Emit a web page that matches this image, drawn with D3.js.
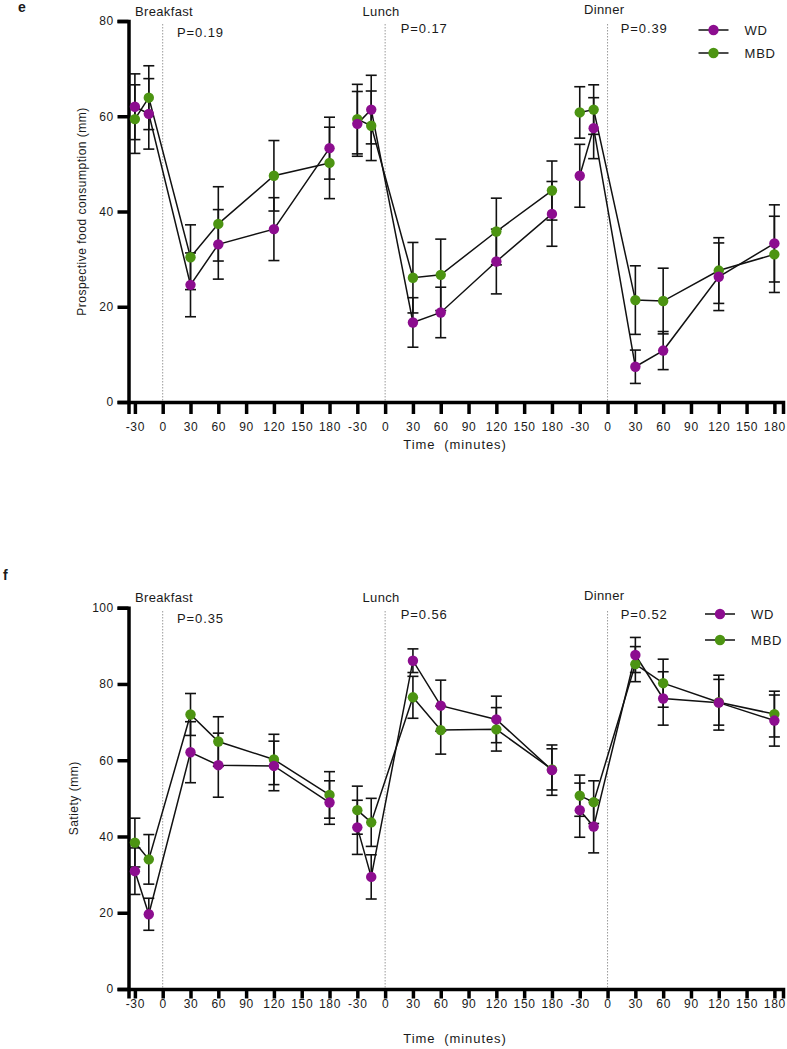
<!DOCTYPE html>
<html><head><meta charset="utf-8">
<script src="https://cdn.jsdelivr.net/npm/d3@7"></script>
<style>
body{margin:0;background:#fff}
svg{display:block}
text{font-family:"Liberation Sans",Arial,sans-serif;fill:#1a1a1a}
</style>
</head><body><svg id="c" width="787" height="1049"></svg>
<script>
// ---------- data ----------
const meals = ["Breakfast", "Lunch", "Dinner"];
const sampleTimes = [-30, -15, 30, 60, 120, 180];
const tickTimes = [-30, 0, 30, 60, 90, 120, 150, 180];
const seriesNames = ["WD", "MBD"];

// panel e: Prospective food consumption (mm), 3 meals x 6 time points
const pfcWD     = [62.0, 60.5, 24.6, 33.1, 36.3, 53.3,  58.4, 61.4, 16.7, 18.8, 29.5, 39.5,  47.5, 57.5, 7.4, 10.8, 26.3, 33.3];
const pfcWDErr  = [6.9, 7.4, 6.7, 7.3, 6.6, 6.5,        6.8, 7.2, 5.2, 5.3, 6.8, 6.8,        6.6, 6.4, 3.5, 4.0, 7.1, 8.1];
const pfcMBD    = [59.4, 63.9, 30.4, 37.4, 47.5, 50.2,  59.4, 58.0, 26.1, 26.7, 35.8, 44.4,  60.8, 61.4, 21.4, 21.2, 27.6, 31.0];
const pfcMBDErr = [7.2, 6.7, 6.8, 7.8, 7.4, 7.5,        7.3, 7.3, 7.4, 7.5, 7.0, 6.2,        5.4, 5.2, 7.2, 6.9, 6.9, 8.0];
const pValuesE  = ["P=0.19", "P=0.17", "P=0.39"];
const yTicksE   = [0, 20, 40, 60, 80];

// panel f: Satiety (mm)
const satWD     = [30.9, 19.6, 62.1, 58.7, 58.5, 48.9,  42.4, 29.4, 86.1, 74.3, 70.7, 57.4,  46.9, 42.6, 87.6, 76.2, 75.1, 70.4];
const satWDErr  = [6.1, 4.2, 8.0, 8.4, 6.5, 5.7,        7.1, 5.8, 3.1, 6.7, 6.1, 6.6,        7.1, 6.9, 4.6, 7.0, 7.2, 6.7];
const satMBD    = [38.4, 34.0, 72.0, 64.9, 60.2, 50.9,  46.9, 43.7, 76.5, 67.9, 68.1, 57.6,  50.7, 49.0, 85.2, 80.2, 75.2, 72.1];
const satMBDErr = [6.4, 6.5, 5.5, 6.5, 6.6, 6.1,        6.3, 6.3, 5.5, 6.3, 5.7, 5.4,        5.4, 5.6, 4.6, 6.3, 6.0, 6.0];
const pValuesF  = ["P=0.35", "P=0.56", "P=0.52"];
const yTicksF   = [0, 20, 40, 60, 80, 100];

// ---------- styles ----------
const colors = {WD: "#8c0d8f", MBD: "#4c9412"};
const svg = d3.select("#c");

// position index: each meal occupies 8 tick slots; -30 -> 0, 0 -> 1, 30 -> 2 ...
const idx = (m, t) => m * 8 + (t + 30) / 30;

function panel(cfg) {
  const g = svg.append("g");
  const x = d3.scaleLinear().domain([-0.23, 23.31]).range([128.5, 783]);
  const y = d3.scaleLinear().domain([0, cfg.yMax]).range([cfg.y0, cfg.y1]);

  // dotted meal-start lines at t = 0
  meals.forEach((m, mi) => {
    g.append("line")
      .attr("x1", x(idx(mi, 0))).attr("x2", x(idx(mi, 0)))
      .attr("y1", cfg.dotTop).attr("y2", cfg.y0)
      .attr("stroke", "#9a9a9a").attr("stroke-width", 1)
      .attr("stroke-dasharray", "1.5,1.5");
  });

  // axes
  const xTickVals = [], xTickLab = [];
  meals.forEach((m, mi) => tickTimes.forEach(t => { xTickVals.push(idx(mi, t)); xTickLab.push(String(t)); }));
  const xa = g.append("g").attr("transform", `translate(0,${cfg.y0})`)
    .call(d3.axisBottom(x).tickValues(xTickVals).tickFormat((d, i) => xTickLab[i])
      .tickSizeOuter(0).tickSize(cfg.xTickSize).tickPadding(cfg.xTickPad));
  xa.select(".domain").attr("stroke", "#000").attr("stroke-width", 3.5);
  xa.selectAll(".tick line").attr("stroke", "#000").attr("stroke-width", 3.5);
  xa.selectAll(".tick text").attr("font-size", 12).attr("letter-spacing", 0.7)
    .attr("font-family", "Liberation Sans, Arial, sans-serif").attr("fill", "#1a1a1a");

  const ya = g.append("g").attr("transform", `translate(128.5,0)`)
    .call(d3.axisLeft(y).tickValues(cfg.yTicks).tickSizeOuter(0).tickSize(11).tickPadding(4));
  ya.select(".domain").attr("stroke", "#000").attr("stroke-width", 3.5);
  ya.selectAll(".tick line").attr("stroke", "#000").attr("stroke-width", 3.5);
  ya.selectAll(".tick text").attr("font-size", 12).attr("letter-spacing", 0.4)
    .attr("font-family", "Liberation Sans, Arial, sans-serif").attr("fill", "#1a1a1a");

  // axis titles
  g.append("text").attr("transform", `translate(${cfg.yTitleX},${(cfg.y0 + cfg.y1) / 2}) rotate(-90)`)
    .attr("text-anchor", "middle").attr("font-size", 12).attr("letter-spacing", 0.5).text(cfg.yTitle);
  g.append("text").attr("x", 455).attr("y", cfg.y0 + cfg.xTitleOff).attr("text-anchor", "middle")
    .attr("font-size", 13).attr("letter-spacing", 0.9).style("white-space", "pre").text("Time  (minutes)");

  // panel letter
  g.append("text").attr("x", cfg.letterX).attr("y", cfg.letterY).attr("font-size", 14)
    .attr("font-weight", "bold").text(cfg.letter);

  // meal labels and P values
  meals.forEach((m, mi) => {
    g.append("text").attr("x", cfg.mealX[mi]).attr("y", cfg.mealY[mi]).attr("font-size", 13)
      .attr("letter-spacing", 0.35).text(m);
    g.append("text").attr("x", cfg.pX[mi]).attr("y", cfg.pY[mi]).attr("font-size", 13)
      .attr("letter-spacing", 0.9).text(cfg.pValues[mi]);
  });

  // series
  const series = [
    {name: "WD", v: cfg.wd, e: cfg.wdErr},
    {name: "MBD", v: cfg.mbd, e: cfg.mbdErr}
  ];
  const line = d3.line().x(d => x(d.i)).y(d => y(d.v));
  // error bars
  series.forEach(s => {
    s.v.forEach((v, k) => {
      const mi = Math.floor(k / sampleTimes.length), t = sampleTimes[k % sampleTimes.length];
      const cx = x(idx(mi, t)), lo = y(v - s.e[k]), hi = y(v + s.e[k]);
      const eg = g.append("g").attr("stroke", "#111").attr("stroke-width", 1.6);
      eg.append("line").attr("x1", cx).attr("x2", cx).attr("y1", lo).attr("y2", hi);
      eg.append("line").attr("x1", cx - 5.5).attr("x2", cx + 5.5).attr("y1", lo).attr("y2", lo);
      eg.append("line").attr("x1", cx - 5.5).attr("x2", cx + 5.5).attr("y1", hi).attr("y2", hi);
    });
  });
  // lines per meal
  series.forEach(s => {
    meals.forEach((m, mi) => {
      const pts = sampleTimes.map((t, j) => ({i: idx(mi, t), v: s.v[mi * sampleTimes.length + j]}));
      g.append("path").attr("d", line(pts)).attr("fill", "none").attr("stroke", "#111").attr("stroke-width", 1.5);
    });
  });
  // markers
  [series[1], series[0]].forEach(s => {
    s.v.forEach((v, k) => {
      const mi = Math.floor(k / sampleTimes.length), t = sampleTimes[k % sampleTimes.length];
      g.append("circle").attr("cx", x(idx(mi, t))).attr("cy", y(v)).attr("r", 5.2).attr("fill", colors[s.name]);
    });
  });

  // legend
  seriesNames.forEach((n, k) => {
    const ly = cfg.legY[k];
    g.append("line").attr("x1", cfg.legX).attr("x2", cfg.legX + 30).attr("y1", ly).attr("y2", ly)
      .attr("stroke", "#111").attr("stroke-width", 1.5);
    g.append("circle").attr("cx", cfg.legX + 15).attr("cy", ly).attr("r", 5.2).attr("fill", colors[n]);
    g.append("text").attr("x", cfg.legX + 46).attr("y", ly + 4.5).attr("font-size", 13)
      .attr("letter-spacing", 0.8).text(n);
  });
}

panel({
  letter: "e", letterX: 18, letterY: 12,
  yMax: 80, y0: 402, y1: 21, yTicks: yTicksE, dotTop: 24,
  xTickSize: 12, xTickPad: 8, xTitleOff: 47,
  yTitle: "Prospective food consumption (mm)", yTitleX: 86,
  wd: pfcWD, wdErr: pfcWDErr, mbd: pfcMBD, mbdErr: pfcMBDErr,
  pValues: pValuesE,
  mealX: [135, 362.5, 584], mealY: [15.5, 16, 14],
  pX: [177, 400.7, 620.7], pY: [37, 33, 33],
  legX: 698.5, legY: [30, 53]
});

panel({
  letter: "f", letterX: 3, letterY: 580,
  yMax: 100, y0: 989, y1: 607.7, yTicks: yTicksF, dotTop: 611,
  xTickSize: 9.5, xTickPad: 1, xTitleOff: 54,
  yTitle: "Satiety (mm)", yTitleX: 78,
  wd: satWD, wdErr: satWDErr, mbd: satMBD, mbdErr: satMBDErr,
  pValues: pValuesF,
  mealX: [135, 362.5, 584], mealY: [601.5, 601.5, 600],
  pX: [177, 400.7, 620.7], pY: [623, 619, 619],
  legX: 705, legY: [614, 640]
});
</script>
</body></html>
